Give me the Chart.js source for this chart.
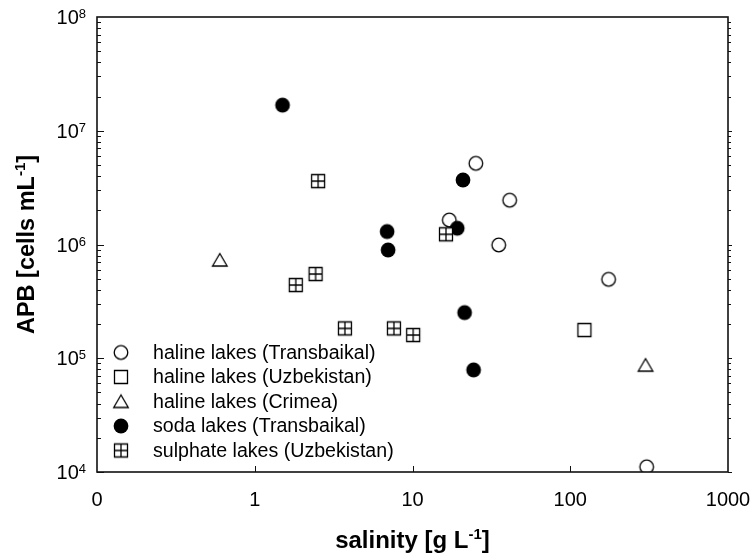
<!DOCTYPE html>
<html>
<head>
<meta charset="utf-8">
<script src="https://cdn.jsdelivr.net/npm/chart.js@4.4.0/dist/chart.umd.min.js"></script>
<style>
  html, body { margin: 0; padding: 0; background: #fff; }
  canvas { display: block; }
</style>
</head>
<body>
<canvas id="apb-chart" width="755" height="555"></canvas>
<script>
const xTicks = [0.1, 1, 10, 100, 1000];
const xTickLabels = ["0", "1", "10", "100", "1000"];
const yTickExponents = [4, 5, 6, 7, 8];

const seriesLabels = [
  "haline lakes (Transbaikal)",
  "haline lakes (Uzbekistan)",
  "haline lakes (Crimea)",
  "soda lakes (Transbaikal)",
  "sulphate lakes (Uzbekistan)",
];

const halineTransbaikalX = [17.1, 25.2, 35.2, 41.3, 175, 305];
const halineTransbaikalY = [1.64e6, 5.17e6, 9.9e5, 2.45e6, 4.94e5, 1.11e4];
const halineUzbekistanX = [123];
const halineUzbekistanY = [1.77e5];
const halineCrimeaX = [0.6, 300];
const halineCrimeaY = [7.3e5, 8.7e4];
const sodaTransbaikalX = [1.5, 6.9, 7.0, 19.2, 20.9, 21.4, 24.4];
const sodaTransbaikalY = [1.68e7, 1.3e6, 8.95e5, 1.39e6, 3.69e6, 2.52e5, 7.9e4];
const sulphateUzbekistanX = [1.82, 2.43, 2.52, 3.73, 7.62, 10.1, 16.3];
const sulphateUzbekistanY = [4.4e5, 5.5e5, 3.61e6, 1.83e5, 1.83e5, 1.6e5, 1.23e6];

const xTitle = [["salinity [g L", false], ["-1", true], ["]", false]];
const yTitle = [["APB [cells mL", false], ["-1", true], ["]", false]];

const FONT = "'Liberation Sans', Arial, sans-serif";

// marker images, also reused by the legend
function makeMarker(kind) {
  const c = document.createElement("canvas");
  c.width = 20;
  c.height = 20;
  const g = c.getContext("2d");
  g.lineWidth = 1.3;
  g.strokeStyle = "#000";
  g.fillStyle = "#fff";
  g.beginPath();
  if (kind === "circle") {
    g.arc(10, 10, 6.8, 0, Math.PI * 2);
    g.fill();
    g.stroke();
  } else if (kind === "dot") {
    g.arc(10, 10, 7.4, 0, Math.PI * 2);
    g.fillStyle = "#000";
    g.fill();
  } else if (kind === "square" || kind === "plus") {
    g.rect(3.5, 3.5, 13, 13);
    g.fill();
    g.stroke();
    if (kind === "plus") {
      g.beginPath();
      g.moveTo(10, 3.5);
      g.lineTo(10, 16.5);
      g.moveTo(3.5, 10);
      g.lineTo(16.5, 10);
      g.stroke();
    }
  } else if (kind === "triangle") {
    g.moveTo(10, 3.5);
    g.lineTo(2.7, 16);
    g.lineTo(17.3, 16);
    g.closePath();
    g.fill();
    g.stroke();
  }
  return c;
}

const markers = ["circle", "square", "triangle", "dot", "plus"].map(makeMarker);

function points(xs, ys) {
  return xs.map((x, i) => ({ x, y: ys[i] }));
}

const seriesData = [
  points(halineTransbaikalX, halineTransbaikalY),
  points(halineUzbekistanX, halineUzbekistanY),
  points(halineCrimeaX, halineCrimeaY),
  points(sodaTransbaikalX, sodaTransbaikalY),
  points(sulphateUzbekistanX, sulphateUzbekistanY),
];

const datasets = seriesData.map((data, i) => ({
  label: seriesLabels[i],
  data,
  pointStyle: markers[i],
  pointRadius: 8,
  order: 5 - i,
}));

function drawRich(ctx, parts, x, y, size, supSize, rise, align) {
  let total = 0;
  const widths = parts.map(([t, sup]) => {
    ctx.font = "bold " + (sup ? supSize : size) + "px " + FONT;
    const w = ctx.measureText(t).width;
    total += w;
    return w;
  });
  let cx = align === "center" ? x - total / 2 : x - total;
  ctx.textAlign = "left";
  ctx.textBaseline = "alphabetic";
  parts.forEach(([t, sup], i) => {
    ctx.font = "bold " + (sup ? supSize : size) + "px " + FONT;
    ctx.fillText(t, cx, sup ? y - rise : y);
    cx += widths[i];
  });
}

const framePlugin = {
  id: "frame",
  afterDraw(chart) {
    const { ctx, chartArea: a, scales } = chart;
    const x = scales.x;
    const y = scales.y;
    ctx.save();
    ctx.strokeStyle = "#111";
    ctx.fillStyle = "#000";

    // ticks
    ctx.lineWidth = 1;
    ctx.beginPath();
    xTicks.slice(1, -1).forEach((v) => {
      const px = Math.round(x.getPixelForValue(v)) + 0.5;
      ctx.moveTo(px, a.bottom);
      ctx.lineTo(px, a.bottom - 6);
    });
    for (let e = yTickExponents[0]; e < yTickExponents[yTickExponents.length - 1]; e++) {
      for (let m = 1; m <= 9; m++) {
        const py = Math.round(y.getPixelForValue(m * Math.pow(10, e))) + 0.5;
        const len = m === 1 ? 7 : 4;
        ctx.moveTo(a.left, py);
        ctx.lineTo(a.left + len, py);
        ctx.moveTo(a.right, py);
        ctx.lineTo(a.right + (m === 1 ? 4 : 3), py);
      }
    }
    ctx.stroke();

    // frame
    ctx.lineWidth = 1.6;
    ctx.strokeRect(a.left, a.top, a.right - a.left, a.bottom - a.top);

    // y tick labels with superscript exponents
    yTickExponents.forEach((e) => {
      const py = y.getPixelForValue(Math.pow(10, e));
      ctx.textBaseline = "alphabetic";
      ctx.textAlign = "left";
      ctx.font = "13px " + FONT;
      const supW = ctx.measureText(String(e)).width;
      ctx.font = "20px " + FONT;
      const baseW = ctx.measureText("10").width;
      const right = 86;
      ctx.fillText("10", right - supW - baseW, py + 7);
      ctx.font = "13px " + FONT;
      ctx.fillText(String(e), right - supW, py + 1);
    });

    // axis titles
    drawRich(ctx, xTitle, (a.left + a.right) / 2, 548, 24, 15, 9, "center");
    ctx.save();
    ctx.translate(34, (a.top + a.bottom) / 2);
    ctx.rotate(-Math.PI / 2);
    drawRich(ctx, yTitle, 0, 0, 23.5, 15, 9, "center");
    ctx.restore();

    // legend
    ctx.font = "19.6px " + FONT;
    ctx.textAlign = "left";
    ctx.textBaseline = "middle";
    seriesLabels.forEach((label, i) => {
      const cy = 352.5 + i * 24.5;
      const m = markers[i];
      ctx.drawImage(m, 121 - m.width / 2, cy - m.height / 2);
      ctx.fillText(label, 153, cy + 1);
    });
    ctx.restore();
  },
};

new Chart(document.getElementById("apb-chart"), {
  type: "scatter",
  data: { datasets },
  options: {
    responsive: false,
    animation: false,
    devicePixelRatio: 1,
    layout: { padding: { left: 0, right: 27, top: 17, bottom: 0 } },
    plugins: {
      legend: { display: false },
      tooltip: { enabled: false },
    },
    scales: {
      x: {
        type: "logarithmic",
        min: 0.1,
        max: 1000,
        grid: { display: false },
        border: { display: false },
        afterBuildTicks: (s) => {
          s.ticks = xTicks.map((v) => ({ value: v }));
        },
        afterFit: (s) => {
          s.height = 83;
          s.paddingLeft = 0;
          s.paddingRight = 0;
        },
        ticks: {
          autoSkip: false,
          maxRotation: 0,
          padding: 8,
          color: "#000",
          font: { family: FONT, size: 20 },
          callback: (v, i) => xTickLabels[i],
        },
      },
      y: {
        type: "logarithmic",
        min: 1e4,
        max: 1e8,
        grid: { display: false },
        border: { display: false },
        ticks: { display: false },
        afterFit: (s) => {
          s.width = 97;
        },
      },
    },
  },
  plugins: [framePlugin],
});
</script>
</body>
</html>
